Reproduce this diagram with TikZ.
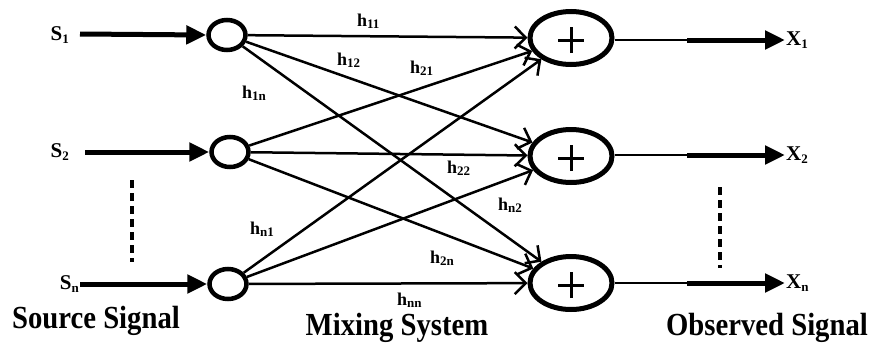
\documentclass[tikz,border=0pt]{standalone}
\usepackage{fontspec}
\setmainfont{Liberation Serif}
\usetikzlibrary{arrows.meta,shapes.geometric}
\newcommand\hsub[2]{#1\raisebox{-0.35ex}{\fontsize{13}{13}\selectfont #2}}
\begin{document}
\begin{tikzpicture}[x=1pt,y=-1pt,
  small/.style={ellipse,draw,line width=4.5pt,minimum width=37pt,minimum height=30pt,inner sep=0pt},
  sum/.style={ellipse,draw,line width=5pt,minimum width=82pt,minimum height=53pt,inner sep=0pt,
    path picture={\draw[line width=3pt]
      ([xshift=-13pt,yshift=-2pt]path picture bounding box.center) -- ([xshift=13pt,yshift=-2pt]path picture bounding box.center)
      ([yshift=-15pt]path picture bounding box.center) -- ([yshift=11pt]path picture bounding box.center);}},
  insig/.style={line width=5pt,-{Triangle[length=20pt,width=18pt]}},
  outthin/.style={line width=2.4pt},
  mix/.style={line width=2.5pt,-{Straight Barb[length=11pt,width=22pt,line width=2.5pt]}},
  sig/.style={font=\bfseries\fontsize{21}{21}\selectfont,inner sep=1pt},
  hlab/.style={font=\bfseries\fontsize{18}{18}\selectfont,inner sep=0pt,anchor=base west},
  title/.style={font=\bfseries\fontsize{28.7}{28.7}\selectfont,inner sep=0pt,anchor=base},
  dots/.style={line width=4pt,dash pattern=on 8pt off 5pt}]
\useasboundingbox (0,0) rectangle (870,343);

% small summing inputs
\node[small] (c1) at (227,35) {};
\node[small] (c2) at (230,152) {};
\node[small] (cn) at (228,284) {};

% adders
\node[sum] (p1) at (571,38) {};
\node[sum] (p2) at (571,156) {};
\node[sum] (pn) at (571,283) {};

% source labels
\node[sig,anchor=east] (s1) at (70,35) {\hsub{S}{1}};
\node[sig,anchor=east] (s2) at (70,152) {\hsub{S}{2}};
\node[sig,anchor=east] (sn) at (80,284) {\hsub{S}{n}};
\coordinate (s1a) at (80,34);
\coordinate (s2a) at (85,152);
\coordinate (sna) at (80,284);
\draw[insig] (s1a) -- (c1.west);
\draw[insig] (s2a) -- (c2.west);
\draw[insig] (sna) -- (cn.west);

% mixing connections
\draw[mix] (c1) -- (p1);
\draw[mix] (c1) -- (p2);
\draw[mix] (c1) -- (pn);
\draw[mix] (c2) -- (p1);
\draw[mix] (c2) -- (p2);
\draw[mix] (c2) -- (pn);
\draw[mix] (cn) -- (p1);
\draw[mix] (cn) -- (p2);
\draw[mix] (cn) -- (pn);

% mixing labels
\node[hlab] (l11) at (357,26) {\hsub{h}{11}};
\node[hlab] (l12) at (337,65) {\hsub{h}{12}};
\node[hlab] (l21) at (410,73) {\hsub{h}{21}};
\node[hlab] (l1n) at (242,98) {\hsub{h}{1n}};
\node[hlab] (l22) at (447,173) {\hsub{h}{22}};
\node[hlab] (ln2) at (498,210) {\hsub{h}{n2}};
\node[hlab] (ln1) at (250,234) {\hsub{h}{n1}};
\node[hlab] (l2n) at (430,263) {\hsub{h}{2n}};
\node[hlab] (lnn) at (397,305) {\hsub{h}{nn}};

% outputs
\node[sig,anchor=west] (x1) at (785,40) {\hsub{X}{1}};
\node[sig,anchor=west] (x2) at (785,155) {\hsub{X}{2}};
\node[sig,anchor=west] (xn) at (785,283) {\hsub{X}{n}};
\coordinate (m1) at (687,40);
\coordinate (m2) at (687,155);
\coordinate (mn) at (687,283);
\draw[outthin] (p1.east |- m1) -- (m1);
\draw[outthin] (p2.east |- m2) -- (m2);
\draw[outthin] (pn.east |- mn) -- (mn);
\draw[insig] (m1) -- (x1.west);
\draw[insig] (m2) -- (x2.west);
\draw[insig] (mn) -- (xn.west);

% dots
\coordinate (dl1) at (132,180);
\coordinate (dl2) at (132,262);
\coordinate (dr1) at (720,187);
\coordinate (dr2) at (720,268);
\draw[dots] (dl1) -- (dl2);
\draw[dots] (dr1) -- (dr2);

% titles
\node[title] (t1) at (96,328) {\scalebox{1}[1.12]{Source Signal}};
\node[title] (t2) at (397,335) {\scalebox{1}[1.12]{Mixing System}};
\node[title] (t3) at (767,335) {\scalebox{1}[1.12]{Observed Signal}};
\end{tikzpicture}
\end{document}
